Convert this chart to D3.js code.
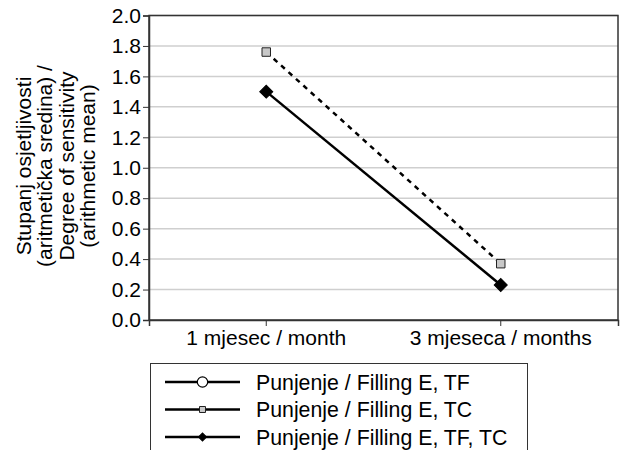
<!DOCTYPE html>
<html><head><meta charset="utf-8">
<script src="https://cdn.jsdelivr.net/npm/d3@7"></script>
<style>
html,body{margin:0;padding:0;background:#fff;}
svg{display:block;}
text{font-family:"Liberation Sans",Arial,Helvetica,sans-serif;fill:#000;}
</style></head>
<body>
<svg id="c" width="624" height="450"></svg>
<script>
const categories = ["1 mjesec / month", "3 mjeseca / months"];
const seriesNames = ["Punjenje / Filling E, TF", "Punjenje / Filling E, TC", "Punjenje / Filling E, TF, TC"];
const valuesTF = [null, null];
const valuesTC = [1.76, 0.37];
const valuesTFTC = [1.50, 0.23];
const yTicks = [0, 0.2, 0.4, 0.6, 0.8, 1.0, 1.2, 1.4, 1.6, 1.8, 2.0];
const yTitleLines = ["Stupanj osjetljivosti", "(aritmetička sredina) /", "Degree of sensitivity", "(arithmetic mean)"];

const svg = d3.select("#c");
const L = 149, R = 618, T = 15.5, B = 320;
const x = d3.scaleBand().domain(categories).range([L, R]);
const y = d3.scaleLinear().domain([0, 2]).range([B, T]);
const fs = 21;

// gridlines
svg.append("g").selectAll("line").data(yTicks.filter(d => d > 0)).join("line")
  .attr("x1", L).attr("x2", R).attr("y1", d => y(d)).attr("y2", d => y(d))
  .attr("stroke", "#cfcfcf").attr("stroke-width", 1.5);

// plot border
svg.append("rect").attr("x", L).attr("y", T).attr("width", R - L).attr("height", B - T)
  .attr("fill", "none").attr("stroke", "#333").attr("stroke-width", 1.5);

// y axis
const yAxis = d3.axisLeft(y).tickValues(yTicks).tickFormat(d3.format(".1f")).tickSizeOuter(0).tickSize(6).tickPadding(2);
const gy = svg.append("g").attr("transform", `translate(${L},0)`).call(yAxis);
gy.select(".domain").attr("stroke", "#333").attr("stroke-width", 1.5);
gy.selectAll(".tick line").attr("stroke", "#333").attr("stroke-width", 1);
gy.selectAll("text").attr("font-size", fs).attr("font-family", '"Liberation Sans",Arial,sans-serif').attr("fill", "#000");

// x axis
const xAxis = d3.axisBottom(x).tickSizeOuter(0).tickSize(6).tickPadding(4);
const gx = svg.append("g").attr("transform", `translate(0,${B})`).call(xAxis);
gx.select(".domain").attr("stroke", "#333").attr("stroke-width", 1.5);
gx.selectAll(".tick line").attr("stroke", "#333").attr("stroke-width", 1);
gx.selectAll("text").attr("font-size", fs).attr("font-family", '"Liberation Sans",Arial,sans-serif').attr("fill", "#000");

// y title
const yt = svg.append("text").attr("transform", "translate(31,166) rotate(-90)")
  .attr("text-anchor", "middle").attr("font-size", fs);
yTitleLines.forEach((t, i) => {
  yt.append("tspan").attr("x", 0).attr("y", i * 21.3).text(t);
});

const cx = d => x(d) + x.bandwidth() / 2;
const lineGen = d3.line().defined(d => d[1] != null).x(d => cx(d[0])).y(d => y(d[1]));

function pairs(vals) { return categories.map((c, i) => [c, vals[i]]); }

// TF series (no visible values)
svg.append("path").datum(pairs(valuesTF)).attr("d", lineGen).attr("fill", "none").attr("stroke", "#000").attr("stroke-width", 2.5);

// TC dashed
svg.append("path").datum(pairs(valuesTC)).attr("d", lineGen).attr("fill", "none")
  .attr("stroke", "#000").attr("stroke-width", 2.5).attr("stroke-dasharray", "5,5");
// TF,TC solid
svg.append("path").datum(pairs(valuesTFTC)).attr("d", lineGen).attr("fill", "none")
  .attr("stroke", "#000").attr("stroke-width", 2.5);

// markers
const sq = d3.symbol().type(d3.symbolSquare).size(72);
const ci = d3.symbol().type(d3.symbolCircle).size(90);

svg.append("g").selectAll("path").data(pairs(valuesTF).filter(d => d[1] != null)).join("path")
  .attr("transform", d => `translate(${cx(d[0])},${y(d[1])})`).attr("d", ci)
  .attr("fill", "#fff").attr("stroke", "#000").attr("stroke-width", 1.2);
svg.append("g").selectAll("path").data(pairs(valuesTC)).join("path")
  .attr("transform", d => `translate(${cx(d[0])},${y(d[1])})`).attr("d", sq)
  .attr("fill", "#c8c8c8").attr("stroke", "#222").attr("stroke-width", 1);
svg.append("g").selectAll("path").data(pairs(valuesTFTC)).join("path")
  .attr("transform", d => `translate(${cx(d[0])},${y(d[1])}) rotate(45)`).attr("d", d3.symbol().type(d3.symbolSquare).size(85))
  .attr("fill", "#000").attr("stroke", "#000").attr("stroke-width", 1);

// legend
const lg = svg.append("g");
lg.append("rect").attr("x", 150.5).attr("y", 363.5).attr("width", 377).attr("height", 100)
  .attr("fill", "#fff").attr("stroke", "#333").attr("stroke-width", 1);
const rows = [382, 409.5, 437];
seriesNames.forEach((n, i) => {
  const ry = rows[i];
  lg.append("line").attr("x1", 165).attr("x2", 240).attr("y1", ry).attr("y2", ry)
    .attr("stroke", "#000").attr("stroke-width", 2.5);
  const m = lg.append("path").attr("transform", `translate(202.5,${ry})` + (i === 2 ? " rotate(45)" : ""));
  if (i === 0) m.attr("d", d3.symbol().type(d3.symbolCircle).size(85)).attr("fill", "#fff").attr("stroke", "#000").attr("stroke-width", 1.2);
  if (i === 1) m.attr("d", d3.symbol().type(d3.symbolSquare).size(36)).attr("fill", "#c8c8c8").attr("stroke", "#222").attr("stroke-width", 1);
  if (i === 2) m.attr("d", d3.symbol().type(d3.symbolSquare).size(32)).attr("fill", "#000").attr("stroke", "#000").attr("stroke-width", 1);
  lg.append("text").attr("x", 256).attr("y", ry).attr("dy", "0.36em").attr("font-size", 21.3).text(n);
});
</script>
</body></html>
